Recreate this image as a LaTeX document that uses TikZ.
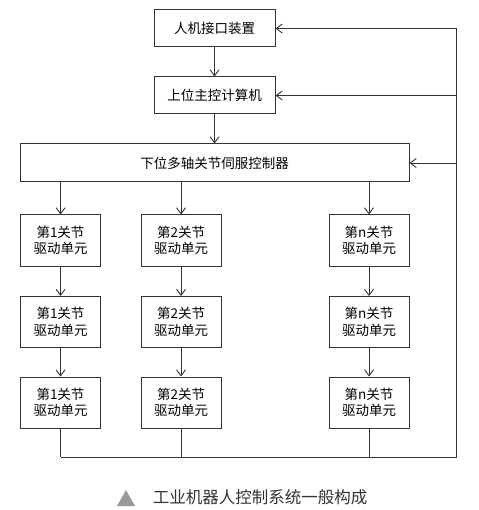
\documentclass[tikz,border=0pt]{standalone}
\usepackage{fontspec}
\setmainfont{Noto Sans CJK SC}
\usetikzlibrary{arrows.meta}
\definecolor{ln}{HTML}{333333}
\tikzset{
  box/.style={draw=ln, line width=1pt, fill=white, align=center, inner sep=0pt, font=\fontsize{13.5}{16.5}\selectfont, text=black},
  bigbox/.style={box, minimum width=121pt, minimum height=37pt},
  drv/.style={box, minimum width=80pt, minimum height=51pt},
  arr/.style={draw=ln, line width=0.9pt, -{Straight Barb[length=6pt,width=9pt,line width=0.9pt]}},
  ln/.style={draw=ln, line width=0.9pt}
}
\begin{document}
\begin{tikzpicture}[x=1pt,y=-1pt]
\useasboundingbox (0,0) rectangle (478,510);
\fill[white] (0,0) rectangle (478,510);
\node[bigbox] (hmi) at (214.5,28.5) {人机接口装置};
\node[bigbox] (pc) at (214.5,95.5) {上位主控计算机};
\node[box, minimum width=389pt, minimum height=38pt] (ctrl) at (214.5,163) {下位多轴关节伺服控制器};
\node[drv] (a1) at (60.5,240.5) {第1关节\\驱动单元};
\node[drv] (a2) at (60.5,322) {第1关节\\驱动单元};
\node[drv] (a3) at (60.5,402.5) {第1关节\\驱动单元};
\node[drv] (b1) at (181,240.5) {第2关节\\驱动单元};
\node[drv] (b2) at (181,322) {第2关节\\驱动单元};
\node[drv] (b3) at (181,402.5) {第2关节\\驱动单元};
\node[drv] (n1) at (369,240.5) {第n关节\\驱动单元};
\node[drv] (n2) at (369,322) {第n关节\\驱动单元};
\node[drv] (n3) at (369,402.5) {第n关节\\驱动单元};
\coordinate (br) at (456,457);
\draw[arr] (hmi) -- (pc);
\draw[arr] (pc) -- (ctrl);
\foreach \c in {a,b,n}{
  \draw[arr] (ctrl.south -| \c1.north) -- (\c1.north);
  \draw[arr] (\c1) -- (\c2);
  \draw[arr] (\c2) -- (\c3);
  \draw[ln] (\c3.south) -- (\c3.south |- br);
}
\draw[ln] (a3.south |- br) -- (br) -- (br |- hmi.east);
\draw[arr] (br |- hmi.east) -- (hmi.east);
\draw[arr] (br |- pc.east) -- (pc.east);
\draw[arr] (br |- ctrl.east) -- (ctrl.east);
\fill[gray!80] (117,506) -- (126,490) -- (135,506) -- cycle;
\node[text=ln, font=\fontsize{16.5}{18}\selectfont, inner sep=0pt] (cap) at (260,497) {工业机器人控制系统一般构成};
\end{tikzpicture}
\end{document}
